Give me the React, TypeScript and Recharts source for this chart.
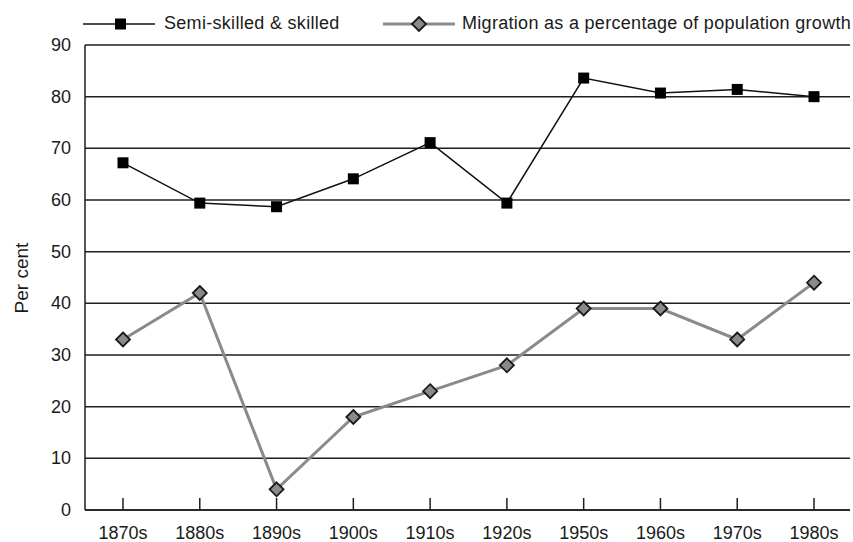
import React from 'react';
import { LineChart, Line, XAxis, YAxis, CartesianGrid } from 'recharts';

const decades = ['1870s', '1880s', '1890s', '1900s', '1910s', '1920s', '1950s', '1960s', '1970s', '1980s'];
const skilled = [67.2, 59.4, 58.7, 64.1, 71.1, 59.4, 83.6, 80.7, 81.4, 80];
const migration = [33, 42, 4, 18, 23, 28, 39, 39, 33, 44];
const yTicks = [0, 10, 20, 30, 40, 50, 60, 70, 80, 90];
const seriesNames = ['Semi-skilled & skilled', 'Migration as a percentage of population growth'];
const yLabel = 'Per cent';

const data = decades.map((d, i) => ({ decade: d, skilled: skilled[i], migration: migration[i] }));

const FONT = '"Liberation Sans", Arial, sans-serif';
const TEXT = '#1a1a1a';
const GRID = '#1e1e1e';
const GREY = '#8a8a8a';

const SquareDot = (props: any) => {
  const { cx, cy, index } = props;
  if (cx == null || cy == null) return <g key={index} />;
  return <rect key={index} x={cx - 5.5} y={cy - 5.5} width={11} height={11} fill="#000" />;
};

const DiamondDot = (props: any) => {
  const { cx, cy, index } = props;
  if (cx == null || cy == null) return <g key={index} />;
  const r = 7;
  return (
    <polygon
      key={index}
      points={`${cx},${cy - r} ${cx + r},${cy} ${cx},${cy + r} ${cx - r},${cy}`}
      fill={GREY}
      stroke="#1a1a1a"
      strokeWidth={1.8}
    />
  );
};

const XTick = (props: any) => {
  const { x, y, payload } = props;
  return (
    <g>
      <line x1={x} y1={y} x2={x} y2={y - 12} stroke={GRID} strokeWidth={1.5} />
      <text x={x} y={y + 29} textAnchor="middle" fontFamily={FONT} fontSize={18} fill={TEXT}>
        {payload.value}
      </text>
    </g>
  );
};

const YTick = (props: any) => {
  const { x, y, payload } = props;
  return (
    <text x={x} y={y + 6} textAnchor="end" fontFamily={FONT} fontSize={18} fill={TEXT}>
      {payload.value}
    </text>
  );
};

export default function App() {
  return (
    <div style={{ position: 'absolute', left: 0, top: 0, width: 853, height: 542, background: '#fff' }}>
      <LineChart
        width={853}
        height={542}
        data={data}
        margin={{ top: 45, right: 3, bottom: 0, left: 0 }}
      >
        <CartesianGrid yAxisId="l" vertical={false} stroke={GRID} strokeWidth={1.5} />
        <XAxis
          dataKey="decade"
          height={32}
          padding={{ left: 38, right: 36 }}
          axisLine={{ stroke: GRID, strokeWidth: 1.5 }}
          tickLine={false}
          tickSize={0}
          tickMargin={0}
          tick={<XTick />}
          interval={0}
        />
        <YAxis
          yAxisId="l"
          width={85}
          domain={[0, 90]}
          ticks={yTicks}
          axisLine={{ stroke: GRID, strokeWidth: 1.5 }}
          tickLine={false}
          tickSize={0}
          tickMargin={14}
          tick={<YTick />}
          interval={0}
        />
        <YAxis
          yAxisId="r"
          orientation="right"
          width={0}
          domain={[0, 90]}
          ticks={yTicks}
          axisLine={{ stroke: GRID, strokeWidth: 1.5 }}
          tickLine={false}
          tick={false}
        />
        <Line
          yAxisId="l"
          dataKey="skilled"
          stroke="#111"
          strokeWidth={1.5}
          dot={<SquareDot />}
          activeDot={false}
          isAnimationActive={false}
        />
        <Line
          yAxisId="l"
          dataKey="migration"
          stroke={GREY}
          strokeWidth={3}
          dot={<DiamondDot />}
          activeDot={false}
          isAnimationActive={false}
        />
      </LineChart>
      <svg width={853} height={542} style={{ position: 'absolute', left: 0, top: 0, pointerEvents: 'none' }}>
        <line x1={83} y1={24} x2={155} y2={24} stroke="#111" strokeWidth={1.5} />
        <rect x={115} y={18.5} width={11} height={11} fill="#000" />
        <text x={164} y={29} fontFamily={FONT} fontSize={18} letterSpacing={0.3} fill={TEXT}>{seriesNames[0]}</text>
        <line x1={383} y1={24} x2={455} y2={24} stroke={GREY} strokeWidth={3} />
        <polygon points="419,17 426,24 419,31 412,24" fill={GREY} stroke="#1a1a1a" strokeWidth={1.8} />
        <text x={462} y={29} fontFamily={FONT} fontSize={18} letterSpacing={0.3} fill={TEXT}>{seriesNames[1]}</text>
        <text
          x={0}
          y={0}
          transform="translate(28,278) rotate(-90)"
          textAnchor="middle"
          fontFamily={FONT}
          fontSize={19}
          fill={TEXT}
        >
          {yLabel}
        </text>
      </svg>
    </div>
  );
}
